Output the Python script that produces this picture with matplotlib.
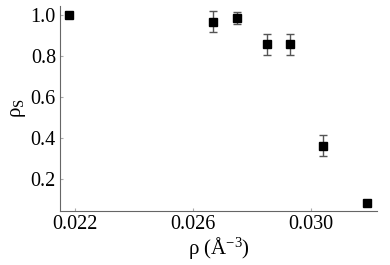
import matplotlib
matplotlib.use("Agg")
import matplotlib.pyplot as plt
import numpy as np

plt.rcParams['font.family'] = ['Liberation Serif', 'DejaVu Serif']
plt.rcParams['mathtext.fontset'] = 'custom'
plt.rcParams['mathtext.rm'] = 'Liberation Serif'
plt.rcParams['mathtext.it'] = 'Liberation Serif:italic'

# density (A^-3) and superfluid fraction
rho = [0.0218, 0.02669, 0.0275, 0.0285, 0.0293, 0.0304, 0.0319]
rho_s = [1.0, 0.969, 0.987, 0.858, 0.858, 0.364, 0.086]
err = [0.0, 0.05, 0.03, 0.05, 0.05, 0.05, 0.0]

xticks = [0.022, 0.026, 0.030]
yticks = [0.2, 0.4, 0.6, 0.8, 1.0]

fig = plt.figure(figsize=(3.9, 2.65), dpi=100)
ax = fig.add_axes([0.154, 0.204, 0.813, 0.773])

x = np.array(rho)
y = np.array(rho_s)
e = np.array(err)
m = e > 0
ax.errorbar(x[m], y[m], yerr=e[m], fmt='none', ecolor='#555555',
            elinewidth=1, capsize=3, capthick=1)
ax.plot(x, y, 's', color='black', markersize=5.5)

ax.set_xlim(0.02149, 0.03224)
ax.set_ylim(0.045, 1.045)
ax.set_xticks(xticks)
ax.set_xticklabels(['0.022', '0.026', '0.030'])
ax.set_yticks(yticks)
ax.set_yticklabels(['0.2', '0.4', '0.6', '0.8', '1.0'])

for s in ['top', 'right']:
    ax.spines[s].set_visible(False)
for s in ['left', 'bottom']:
    ax.spines[s].set_color('#666666')
ax.tick_params(direction='in', length=2.5, color='#aaaaaa', labelsize=14.5, pad=3)

ax.set_xlabel('ρ (Å$^{-3}$)', fontsize=15, labelpad=1)
ax.set_ylabel('ρ$_\\mathrm{S}$', fontsize=15, labelpad=2)

fig.savefig('out.png', dpi=100)
